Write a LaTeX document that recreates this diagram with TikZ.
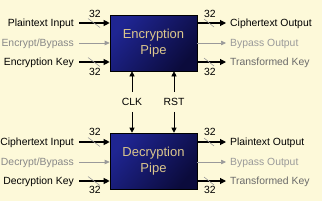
\documentclass[tikz,border=0pt]{standalone}
\usepackage{fontspec}
\setmainfont{Liberation Sans}
\usetikzlibrary{arrows.meta}
\definecolor{bg}{HTML}{FDF9D9}
\definecolor{boxtop}{HTML}{1F2592}
\definecolor{boxbot}{HTML}{0B0B3C}
\definecolor{boxtxt}{HTML}{DCC78C}
\definecolor{lgray}{HTML}{9A9A9A}
\definecolor{mgray}{HTML}{6A6A6A}
\begin{document}
\begin{tikzpicture}[x=1pt,y=-1pt,
  font=\fontsize{10.4}{12}\selectfont,
  pipe/.style={draw=black, line width=0.6pt, top color=boxtop, bottom color=boxbot,
    shading angle=50, minimum width=87pt, minimum height=56pt, align=center,
    text=boxtxt, font=\fontsize{13}{15.5}\selectfont, inner sep=0pt},
  lbl/.style={inner sep=0pt, text height=7.5pt, text depth=0pt},
  sig/.style={draw=black, line width=1.1pt, -{Triangle[length=6pt,width=6pt]}},
  byp/.style={draw=lgray, line width=0.6pt, -{Triangle[length=5pt,width=4.5pt]}},
  tick/.style={draw=lgray, line width=0.6pt},
  num/.style={inner sep=0pt, text height=7.5pt, text depth=0pt}
]
\fill[bg] (0,0) rectangle (322,201);
\useasboundingbox (0,0) rectangle (322,201);

% boxes
\node[pipe] (enc) at (153.5,43) {Encryption\\Pipe};
\node[pipe] (dec) at (153.5,161) {Decryption\\Pipe};

% ---------- Encryption left ----------
\node[lbl, anchor=east] (pti) at (74,23) {Plaintext Input};
\node[lbl, anchor=east, text=mgray!80] (eby) at (74,43) {Encrypt/Bypass};
\node[lbl, anchor=east] (eky) at (74,62) {Encryption Key};
\draw[sig] ([xshift=5pt]pti.east) -- (enc.west |- pti.east);
\draw[byp] ([xshift=5pt]eby.east) -- (enc.west |- eby.east);
\draw[sig] ([xshift=5pt]eky.east) -- (enc.west |- eky.east);
\node[num] (n1) at (95,14) {32};
\node[num] (n2) at (95,72) {32};
\coordinate (t1) at (94,23); \draw[tick] ([shift={(-6,-4.5)}]t1) -- ([shift={(6,4.5)}]t1);
\coordinate (t2) at (94,62); \draw[tick] ([shift={(-6,-4.5)}]t2) -- ([shift={(6,4.5)}]t2);

% ---------- Encryption right ----------
\node[lbl, anchor=west] (cto) at (230,23) {Ciphertext Output};
\node[lbl, anchor=west, text=lgray] (ebo) at (230,43) {Bypass Output};
\node[lbl, anchor=west, text=mgray] (etk) at (230,62) {Transformed Key};
\draw[sig] (enc.east |- cto.west) -- ([xshift=-4pt]cto.west);
\draw[byp] (enc.east |- ebo.west) -- ([xshift=-4pt]ebo.west);
\draw[sig] (enc.east |- etk.west) -- ([xshift=-4pt]etk.west);
\node[num] (n3) at (210,14) {32};
\node[num] (n4) at (210,72) {32};
\coordinate (t3) at (209,23); \draw[tick] ([shift={(-5,-4)}]t3) -- ([shift={(5,4)}]t3);
\coordinate (t4) at (209,62); \draw[tick] ([shift={(-5,-4)}]t4) -- ([shift={(5,4)}]t4);

% ---------- CLK / RST ----------
\node[lbl] (clk) at (132,102) {CLK};
\node[lbl] (rst) at (174,102) {RST};
\draw[sig, line width=0.6pt, -{Triangle[length=5pt,width=5pt]}] ([yshift=6pt]clk.north) -- (clk.north |- enc.south);
\draw[sig, line width=0.6pt, -{Triangle[length=5pt,width=5pt]}] ([yshift=6pt]rst.north) -- (rst.north |- enc.south);
\draw[sig, line width=0.6pt, -{Triangle[length=5pt,width=5pt]}] ([yshift=-6pt]clk.south) -- (clk.south |- dec.north);
\draw[sig, line width=0.6pt, -{Triangle[length=5pt,width=5pt]}] ([yshift=-6pt]rst.south) -- (rst.south |- dec.north);

% ---------- Decryption left ----------
\node[lbl, anchor=east] (cti) at (74,142) {Ciphertext Input};
\node[lbl, anchor=east, text=mgray!80] (dby) at (74,162) {Decrypt/Bypass};
\node[lbl, anchor=east] (dky) at (74,181) {Decryption Key};
\draw[sig] ([xshift=5pt]cti.east) -- (dec.west |- cti.east);
\draw[byp] ([xshift=5pt]dby.east) -- (dec.west |- dby.east);
\draw[sig] ([xshift=5pt]dky.east) -- (dec.west |- dky.east);
\node[num] (n5) at (95,132) {32};
\node[num] (n6) at (95,190) {32};
\coordinate (t5) at (94,142); \draw[tick] ([shift={(-6,-4.5)}]t5) -- ([shift={(6,4.5)}]t5);
\coordinate (t6) at (94,181); \draw[tick] ([shift={(-6,-4.5)}]t6) -- ([shift={(6,4.5)}]t6);

% ---------- Decryption right ----------
\node[lbl, anchor=west] (pto) at (230,142) {Plaintext Output};
\node[lbl, anchor=west, text=lgray] (dbo) at (230,162) {Bypass Output};
\node[lbl, anchor=west, text=mgray] (dtk) at (230,181) {Transformed Key};
\draw[sig] (dec.east |- pto.west) -- ([xshift=-4pt]pto.west);
\draw[byp] (dec.east |- dbo.west) -- ([xshift=-4pt]dbo.west);
\draw[sig] (dec.east |- dtk.west) -- ([xshift=-4pt]dtk.west);
\node[num] (n7) at (210,132) {32};
\node[num] (n8) at (210,190) {32};
\coordinate (t7) at (209,142); \draw[tick] ([shift={(-5,-4)}]t7) -- ([shift={(5,4)}]t7);
\coordinate (t8) at (209,181); \draw[tick] ([shift={(-5,-4)}]t8) -- ([shift={(5,4)}]t8);
\end{tikzpicture}
\end{document}
